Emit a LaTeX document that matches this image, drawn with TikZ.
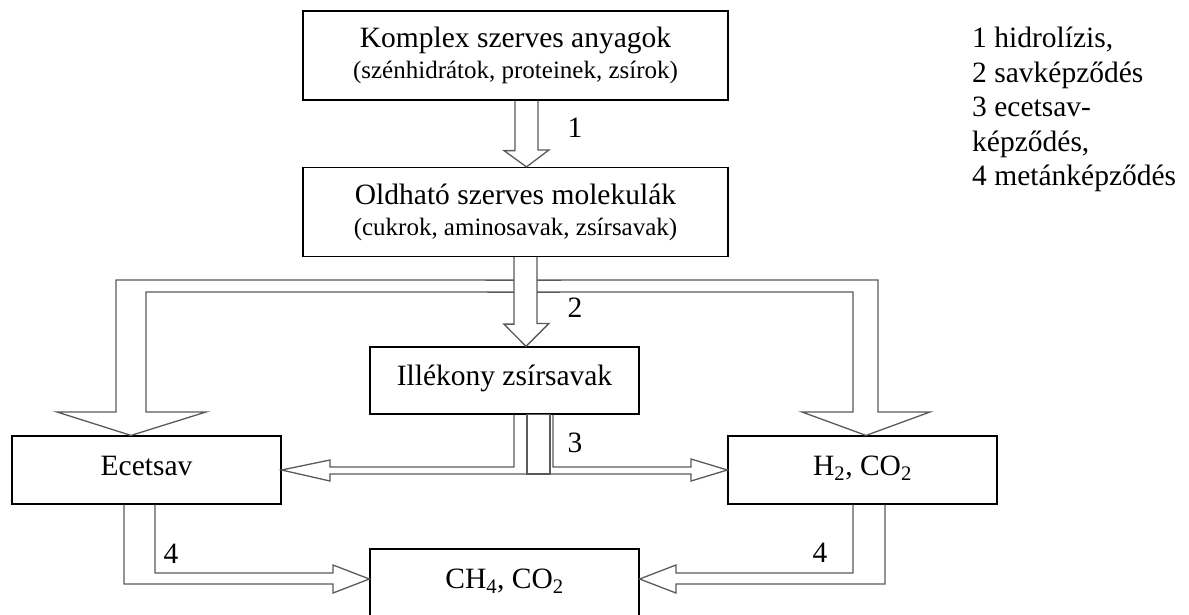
\documentclass[tikz,border=0pt]{standalone}
\usepackage{fontspec}
\setmainfont{Liberation Serif}
\usetikzlibrary{calc}
\definecolor{arrowgray}{HTML}{5A5A5A}
\newcommand{\mainsize}{\fontsize{29.5}{34.5}\selectfont}
\newcommand{\subsize}{\fontsize{25}{30}\selectfont}
\tikzset{
  box/.style={draw=black, line width=1.2pt, inner sep=0pt, minimum width=269pt,
    minimum height=68pt, font=\mainsize, text height=20pt, text depth=10pt},
  bigbox/.style={draw=black, line width=1.2pt, inner sep=0pt, minimum width=425pt,
    minimum height=89pt, align=center, font=\mainsize},
  harrow/.style={draw=arrowgray, line width=1.3pt, line join=miter},
  numlabel/.style={anchor=base, inner sep=0pt, font=\mainsize},
}
\begin{document}
\begin{tikzpicture}[x=1pt, y=-1pt]
\clip (0,0) rectangle (1189,614);
\fill[white] (0,0) rectangle (1189,614);

% boxes
\node[bigbox] (komplex) at (515.5,55.5) {Komplex szerves anyagok\\[-3.5pt]{\subsize (szénhidrátok, proteinek, zsírok)}};
\node[bigbox] (oldhato) at (515.5,212) {Oldható szerves molekulák\\[-3.5pt]{\subsize (cukrok, aminosavak, zsírsavak)}};
\node[box, minimum height=67pt] (illek) at (504.5,380.5) {Illékony zsírsavak};
\node[box] (ecet) at (146.5,470) {Ecetsav};
\node[box] (h2) at (862.5,470) {H\textsubscript{2}, CO\textsubscript{2}};
\node[box] (ch4) at (504.5,583) {CH\textsubscript{4}, CO\textsubscript{2}};

% arrow 1
\draw[harrow] ($(komplex.south)+(-0.5,0)$) -- ++(0,50) -- ++(-11,0)
  -- ($(oldhato.north)+(11,0)$) -- ++(22.5,-17) -- ++(-11,0)
  -- ($(komplex.south)+(22.5,0)$);
% arrow 2
\draw[harrow] ($(oldhato.south)+(-1.5,0)$) -- ++(0,67) -- ++(-10,0)
  -- ($(illek.north)+(21.5,0)$) -- ++(23,-23) -- ++(-12,0)
  -- ($(oldhato.south)+(21.5,0)$);
% left loop
\draw[harrow] ($(oldhato.south)+(-1.5,23)$) -- (116,280) -- (116,412) -- (57,412)
  -- ($(ecet.north)+(-15.5,0)$) -- (206,412) -- (146,412) -- (146,292)
  -- ($(oldhato.south)+(-1.5,35)$);
% right loop
\draw[harrow] ($(oldhato.south)+(21.5,23)$) -- (878,280) -- (878,412) -- (930,412)
  -- ($(h2.north)+(3.5,0)$) -- (802,412) -- (853,412) -- (853,292)
  -- ($(oldhato.south)+(21.5,35)$);
% arrow 3
\draw[harrow] ($(illek.south)+(9.5,0)$) -- (514,467) -- (330,467) -- (330,460)
  -- (ecet.east) -- (330,481) -- (330,474) -- (691,474) -- (691,481)
  -- (h2.west) -- (691,459) -- (691,467) -- (553,467)
  -- ($(illek.south)+(48.5,0)$);
\draw[harrow] ($(illek.south)+(22.5,0)$) rectangle (550,474);
% arrow 4 left
\draw[harrow] ($(ecet.south)+(-22.5,0)$) -- (124,584) -- (333,584) -- (333,593)
  -- ($(ch4.west)+(0,-4)$) -- (333,565) -- (333,573) -- (155,573)
  -- ($(ecet.south)+(8.5,0)$);
% arrow 4 right
\draw[harrow] ($(h2.south)+(22.5,0)$) -- (885,584) -- (676,584) -- (676,593)
  -- ($(ch4.east)+(0,-4)$) -- (676,565) -- (676,573) -- (853,573)
  -- ($(h2.south)+(-9.5,0)$);

% step labels
\node[numlabel] (l1) at (575,137) {1};
\node[numlabel] (l2) at (575,317) {2};
\node[numlabel] (l3) at (575,452) {3};
\node[numlabel] (l4a) at (171,563) {4};
\node[numlabel] (l4b) at (820,562) {4};

% legend
\node[anchor=north west, inner sep=0pt, align=left, font=\mainsize] (legend) at (972,27)
  {1 hidrolízis,\\2 savképződés\\3 ecetsav-\\képződés,\\4 metánképződés};
\end{tikzpicture}
\end{document}
